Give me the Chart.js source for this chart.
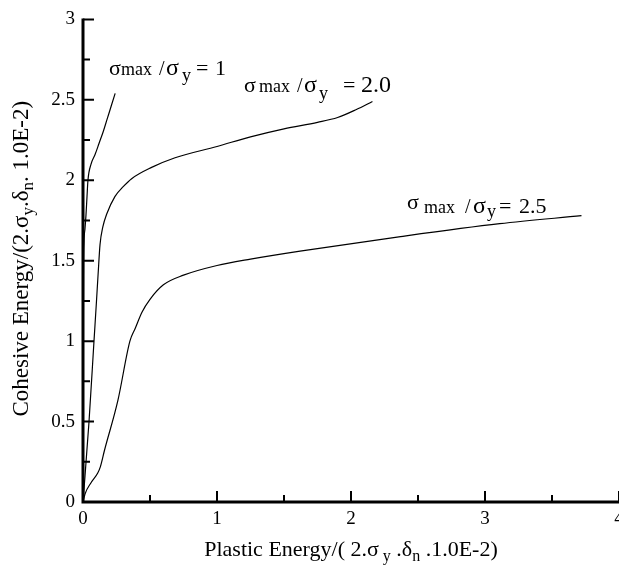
<!DOCTYPE html>
<html lang="en">
<head>
<meta charset="UTF-8" />
<title>Cohesive energy vs plastic energy</title>
<script src="https://cdn.jsdelivr.net/npm/chart.js"></script>
<style>
  html, body { margin: 0; padding: 0; overflow: hidden; background: #fff; }
  #wrap { width: 640px; height: 567px; }
</style>
</head>
<body>
<div id="wrap"><canvas id="energyChart" width="640" height="567"></canvas></div>
<script>
// sigma_max / sigma_y = 1
const ratio1X = [0, 0.002, 0.004, 0.008, 0.015, 0.022, 0.03, 0.037, 0.06, 0.09, 0.12, 0.15, 0.18, 0.21, 0.24];
const ratio1Y = [0, 0.8, 1.4, 1.62, 1.7, 1.78, 1.9, 2.0, 2.1, 2.16, 2.23, 2.3, 2.38, 2.46, 2.54];
// sigma_max / sigma_y = 2.0
const ratio2X = [0, 0.045, 0.082, 0.1, 0.113, 0.127, 0.148, 0.177, 0.239, 0.3, 0.363, 0.512, 0.687, 1.0, 1.25, 1.5, 1.75, 1.9, 2.04, 2.16];
const ratio2Y = [0, 0.5, 1.0, 1.24, 1.42, 1.6, 1.71, 1.79, 1.9, 1.96, 2.01, 2.08, 2.14, 2.21, 2.27, 2.32, 2.36, 2.39, 2.44, 2.49];
// sigma_max / sigma_y = 2.5
const ratio25X = [0, 0.015, 0.06, 0.11, 0.13, 0.16, 0.26, 0.35, 0.39, 0.44, 0.5, 0.6, 0.75, 1.0, 1.25, 1.62, 2.37, 3.11, 3.72];
const ratio25Y = [0, 0.05, 0.12, 0.18, 0.22, 0.32, 0.63, 1.0, 1.08, 1.18, 1.26, 1.35, 1.41, 1.47, 1.51, 1.56, 1.65, 1.73, 1.78];

const xMajor = [0, 1, 2, 3, 4];
const xMinor = [0.5, 1.5, 2.5, 3.5];
const yMajor = [0, 0.5, 1, 1.5, 2, 2.5, 3];
const yMinor = [0.25, 0.75, 1.25, 1.75, 2.25, 2.75];

const FONT = '"Liberation Serif", "Times New Roman", serif';

function toPoints(xs, ys) {
  return xs.map((x, i) => ({ x: x, y: ys[i] }));
}

// run of [text, size, dy] pieces, so sub/superscripts stay real text
function richText(ctx, segs, x, y, align) {
  let total = 0;
  segs.forEach((s) => {
    ctx.font = s[1] + "px " + FONT;
    total += ctx.measureText(s[0]).width;
  });
  let cx = align === "center" ? x - total / 2 : x;
  segs.forEach((s) => {
    ctx.font = s[1] + "px " + FONT;
    ctx.fillText(s[0], cx, y + (s[2] || 0));
    cx += ctx.measureText(s[0]).width;
  });
}

// pieces placed at their own x: [text, size, dy, x]
function placedText(ctx, segs, y) {
  segs.forEach((s) => {
    ctx.font = s[1] + "px " + FONT;
    ctx.fillText(s[0], s[3], y + s[2]);
  });
}

const axesPlugin = {
  id: "axesPlugin",
  afterDraw(chart) {
    const ctx = chart.ctx;
    const xs = chart.scales.x;
    const ys = chart.scales.y;
    const left = xs.getPixelForValue(0);
    const bottom = ys.getPixelForValue(0);
    const top = ys.getPixelForValue(3);
    const right = xs.getPixelForValue(4);
    const area = chart.chartArea;

    ctx.save();
    ctx.strokeStyle = "#000";
    ctx.fillStyle = "#000";

    // inward ticks
    ctx.lineWidth = 2;
    ctx.beginPath();
    yMajor.forEach((v) => { const p = ys.getPixelForValue(v); ctx.moveTo(left, p); ctx.lineTo(left + 11, p); });
    yMinor.forEach((v) => { const p = ys.getPixelForValue(v); ctx.moveTo(left, p); ctx.lineTo(left + 7, p); });
    xMajor.forEach((v) => { const p = xs.getPixelForValue(v); ctx.moveTo(p, bottom); ctx.lineTo(p, bottom - 11); });
    xMinor.forEach((v) => { const p = xs.getPixelForValue(v); ctx.moveTo(p, bottom); ctx.lineTo(p, bottom - 7); });
    ctx.stroke();

    // axis lines
    ctx.lineWidth = 3;
    ctx.beginPath();
    ctx.moveTo(left, top - 1);
    ctx.lineTo(left, bottom);
    ctx.lineTo(right + 2, bottom);
    ctx.stroke();

    // axis titles
    ctx.textBaseline = "alphabetic";
    richText(ctx, [
      ["Plastic Energy/( ", 22], ["2.σ", 22], [" y", 16, 5], [" .δ", 22], ["n", 16, 5], [" .1.0E-2)", 22]
    ], (area.left + area.right) / 2, 556, "center");

    ctx.save();
    ctx.translate(28, (area.top + area.bottom) / 2 - 2);
    ctx.rotate(-Math.PI / 2);
    richText(ctx, [
      ["Cohesive Energy/(2.σ", 23], ["y", 17, 5], [".δ", 23], ["n", 17, 5], [". 1.0E-2)", 23]
    ], 0, 0, "center");
    ctx.restore();

    // curve labels
    placedText(ctx, [
      ["σ", 22, 0, 109], ["max", 18, 0, 121], ["/", 20, 0, 159], ["σ", 24, 0, 166],
      ["y", 18, 6, 182], ["=", 22, 0, 196], ["1", 22, 0, 215]
    ], 75);
    placedText(ctx, [
      ["σ", 22, 0, 244], ["max", 18, 0, 259], ["/", 20, 0, 297], ["σ", 24, 0, 304],
      ["y", 18, 7, 319], ["=", 22, 0, 343], ["2.0", 24, 0, 361]
    ], 92);
    placedText(ctx, [
      ["σ", 22, -4, 407], ["max", 18, 0, 424], ["/", 20, 0, 465], ["σ", 24, 0, 473],
      ["y", 18, 4, 487], ["=", 22, 0, 499], ["2.5", 22, 0, 519]
    ], 213);

    ctx.restore();
  }
};

const lineStyle = {
  showLine: true,
  pointRadius: 0,
  borderColor: "#000",
  borderWidth: 1.2,
  cubicInterpolationMode: "monotone",
  fill: false
};

const ctx = document.getElementById("energyChart").getContext("2d");
new Chart(ctx, {
  type: "scatter",
  data: {
    datasets: [
      Object.assign({ label: "σmax/σy = 1", data: toPoints(ratio1X, ratio1Y) }, lineStyle),
      Object.assign({ label: "σmax/σy = 2.0", data: toPoints(ratio2X, ratio2Y) }, lineStyle),
      Object.assign({ label: "σmax/σy = 2.5", data: toPoints(ratio25X, ratio25Y) }, lineStyle)
    ]
  },
  options: {
    responsive: false,
    animation: false,
    layout: { padding: { top: 14, right: 21, left: 0, bottom: 0 } },
    plugins: { legend: { display: false }, tooltip: { enabled: false } },
    scales: {
      x: {
        type: "linear",
        min: 0,
        max: 4,
        grid: { display: false, drawTicks: false },
        border: { display: false },
        ticks: {
          stepSize: 1, color: "#000", padding: 6,
          font: { family: FONT, size: 19 },
          callback: (v) => String(v)
        },
        afterFit: (s) => { s.height = 65; }
      },
      y: {
        min: 0,
        max: 3,
        grid: { display: false, drawTicks: false },
        border: { display: false },
        ticks: {
          stepSize: 0.5, color: "#000", padding: 8,
          font: { family: FONT, size: 19 },
          callback: (v) => String(v)
        },
        afterFit: (s) => { s.width = 83; }
      }
    }
  },
  plugins: [axesPlugin]
});
</script>
</body>
</html>
